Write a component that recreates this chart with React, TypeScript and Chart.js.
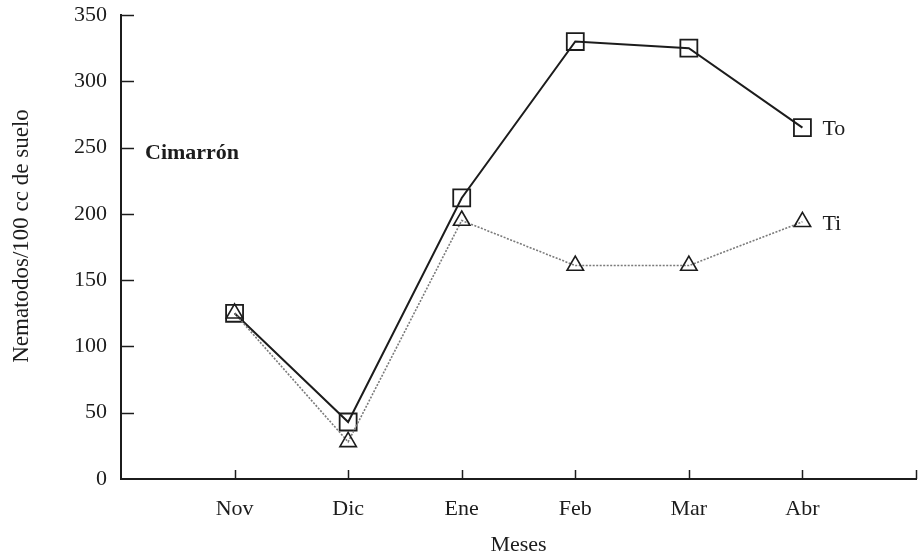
import { useEffect, useRef } from 'react';
import { Chart, registerables } from 'chart.js';

Chart.register(...registerables);

// Monthly nematode counts for the two sampled populations
const months = ['Nov', 'Dic', 'Ene', 'Feb', 'Mar', 'Abr'];
const toValues = [125, 43, 212, 330, 325, 265];
const tiValues = [125, 28, 195, 161, 161, 194];
const yTickValues = [0, 50, 100, 150, 200, 250, 300, 350];
const seriesNames = ['To', 'Ti'];
const panelTitle = 'Cimarrón';
const xTitle = 'Meses';
const yTitle = 'Nematodos/100 cc de suelo';

const FONT = "'Liberation Serif', 'Times New Roman', serif";
const INK = '#1c1c1c';

// Inward tick marks, axis titles and in-plot labels
const annotate = {
  id: 'annotate',
  afterDraw(chart: any) {
    const { ctx, chartArea, scales } = chart;
    const x = scales.x;
    const y = scales.y;
    ctx.save();
    ctx.strokeStyle = INK;
    ctx.lineWidth = 1.5;
    for (let i = 1; i <= months.length + 1; i++) {
      const px = Math.round(x.getPixelForValue(i)) + 0.5;
      ctx.beginPath();
      ctx.moveTo(px, chartArea.bottom);
      ctx.lineTo(px, chartArea.bottom - 9);
      ctx.stroke();
    }
    yTickValues.forEach((v) => {
      if (v === 0) return;
      const py = Math.round(y.getPixelForValue(v)) + 0.5;
      ctx.beginPath();
      ctx.moveTo(chartArea.left, py);
      ctx.lineTo(chartArea.left + 13, py);
      ctx.stroke();
    });

    ctx.fillStyle = INK;
    ctx.textBaseline = 'middle';
    ctx.textAlign = 'left';
    ctx.font = `bold 22px ${FONT}`;
    ctx.fillText(panelTitle, chartArea.left + 24, y.getPixelForValue(246));

    ctx.font = `22px ${FONT}`;
    const last = months.length - 1;
    const lx = x.getPixelForValue(months.length) + 20;
    ctx.fillText(seriesNames[0], lx, y.getPixelForValue(toValues[last]) + 2);
    ctx.fillText(seriesNames[1], lx, y.getPixelForValue(tiValues[last]) + 2);

    ctx.textAlign = 'center';
    ctx.fillText(xTitle, (chartArea.left + chartArea.right) / 2, 545);
    ctx.font = `23px ${FONT}`;
    ctx.translate(22, 236);
    ctx.rotate(-Math.PI / 2);
    ctx.fillText(yTitle, 0, 0);
    ctx.restore();
  },
};

const noScalePadding = (scale: any) => {
  scale.paddingTop = 0;
  scale.paddingBottom = 0;
  scale.paddingLeft = 0;
  scale.paddingRight = 0;
};

export default function App() {
  const canvasRef = useRef<HTMLCanvasElement | null>(null);

  useEffect(() => {
    const canvas = canvasRef.current;
    if (!canvas) return;
    const chart = new Chart(canvas, {
      type: 'line',
      data: {
        datasets: [
          {
            label: seriesNames[1],
            data: tiValues.map((v, i) => ({ x: i + 1, y: v })),
            borderColor: '#7a7a7a',
            borderWidth: 1.6,
            borderDash: [2, 1.5],
            pointStyle: 'triangle',
            pointRadius: 9.5,
            pointBorderColor: INK,
            pointBorderWidth: 1.6,
            pointBackgroundColor: 'rgba(0,0,0,0)',
            tension: 0,
          },
          {
            label: seriesNames[0],
            data: toValues.map((v, i) => ({ x: i + 1, y: v })),
            borderColor: INK,
            borderWidth: 2,
            pointStyle: 'rect',
            pointRadius: 12,
            pointBorderColor: INK,
            pointBorderWidth: 1.8,
            pointBackgroundColor: 'rgba(0,0,0,0)',
            tension: 0,
          },
        ],
      },
      options: {
        animation: false,
        responsive: false,
        events: [],
        layout: { autoPadding: false, padding: { left: 0, right: 2, top: 15, bottom: 0 } },
        plugins: {
          legend: { display: false },
          tooltip: { enabled: false },
        },
        scales: {
          x: {
            type: 'linear',
            min: 0,
            max: months.length + 1,
            afterFit: (scale: any) => {
              scale.height = 80;
              noScalePadding(scale);
            },
            grid: { display: false, drawTicks: false },
            border: { display: true, color: INK, width: 2 },
            ticks: {
              stepSize: 1,
              autoSkip: false,
              maxRotation: 0,
              padding: 17,
              color: INK,
              font: { family: FONT, size: 22 },
              callback: (v: any) => months[Number(v) - 1] ?? '',
            },
          },
          y: {
            type: 'linear',
            min: 0,
            max: 350,
            afterFit: (scale: any) => {
              scale.width = 121;
              noScalePadding(scale);
            },
            grid: { display: false, drawTicks: false },
            border: { display: true, color: INK, width: 2 },
            ticks: {
              stepSize: 50,
              padding: 14,
              color: INK,
              font: { family: FONT, size: 22 },
            },
          },
        },
      },
      plugins: [annotate],
    });
    return () => chart.destroy();
  }, []);

  return (
    <div style={{ position: 'fixed', left: 0, top: 0, width: 918, height: 559, background: '#fff' }}>
      <canvas ref={canvasRef} width={918} height={559} />
    </div>
  );
}
